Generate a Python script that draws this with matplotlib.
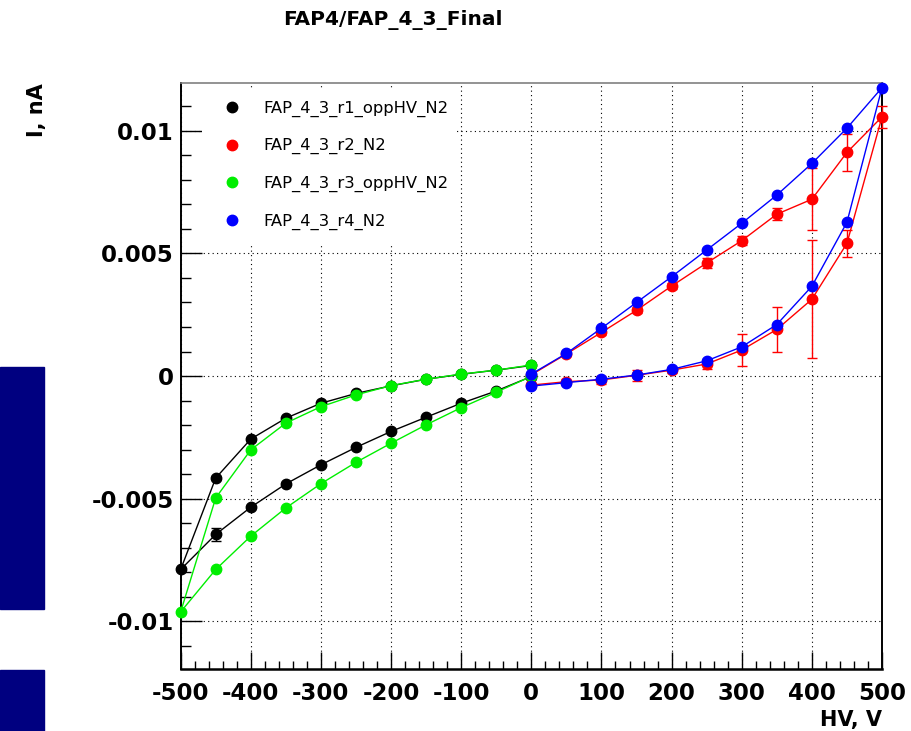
import matplotlib
matplotlib.use("Agg")
import matplotlib.pyplot as plt
from matplotlib.lines import Line2D
from matplotlib.patches import Rectangle
from matplotlib.ticker import FuncFormatter, MultipleLocator

plt.rcParams["font.family"] = ["DejaVu Sans"]
plt.rcParams["axes.unicode_minus"] = False

# --- data (HV in V, current in nA) ---
hv_neg = [0, -50, -100, -150, -200, -250, -300, -350, -400, -450, -500,
          -450, -400, -350, -300, -250, -200, -150, -100, -50, 0]
hv_pos = [0, 50, 100, 150, 200, 250, 300, 350, 400, 450, 500,
          450, 400, 350, 300, 250, 200, 150, 100, 50, 0]

i_r1 = [0.00043, 0.00024, 0.00007, -0.00013, -0.00040, -0.00071, -0.00111,
        -0.00172, -0.00257, -0.00416, -0.00789,
        -0.00646, -0.00535, -0.00440, -0.00362, -0.00291, -0.00226,
        -0.00168, -0.00111, -0.00061, -0.00002]
e_r1 = [0.00004, 0.00004, 0.00004, 0.00004, 0.00004, 0.00004, 0.00005,
        0.00005, 0.00006, 0.00008, 0.00008,
        0.00028, 0.00008, 0.00006, 0.00005, 0.00005, 0.00004,
        0.00004, 0.00004, 0.00004, 0.00004]

i_r2 = [0.00005, 0.00090, 0.00178, 0.00268, 0.00367, 0.00461, 0.00552,
        0.00660, 0.00721, 0.00912, 0.01057,
        0.00541, 0.00313, 0.00190, 0.00106, 0.00049, 0.00024,
        0.00003, -0.00016, -0.00023, -0.00037]
e_r2 = [0.00005, 0.00008, 0.00010, 0.00012, 0.00012, 0.00020, 0.00018,
        0.00025, 0.00126, 0.00076, 0.00045,
        0.00054, 0.00240, 0.00091, 0.00064, 0.00020, 0.00010,
        0.00022, 0.00015, 0.00012, 0.00010]

i_r3 = [0.00045, 0.00024, 0.00008, -0.00013, -0.00039, -0.00077, -0.00125,
        -0.00192, -0.00301, -0.00497, -0.00962,
        -0.00789, -0.00653, -0.00538, -0.00439, -0.00352, -0.00274,
        -0.00199, -0.00129, -0.00066, -0.00001]
e_r3 = [0.00004] * 21

i_r4 = [0.00008, 0.00092, 0.00195, 0.00300, 0.00405, 0.00514, 0.00623,
        0.00738, 0.00867, 0.01011, 0.01176,
        0.00627, 0.00366, 0.00210, 0.00119, 0.00062, 0.00027,
        0.00004, -0.00013, -0.00027, -0.00041]
e_r4 = [0.00004] * 21

labels = ["FAP_4_3_r1_oppHV_N2", "FAP_4_3_r2_N2",
          "FAP_4_3_r3_oppHV_N2", "FAP_4_3_r4_N2"]
colors = ["black", "red", "#00ee00", "blue"]

fig = plt.figure(figsize=(9.12, 7.31), dpi=100)
ax = fig.add_axes([0.1981, 0.0848, 0.769, 0.8016])

# stray palette blocks on the left edge of the original canvas
fig.patches.append(Rectangle((0, 0.1665), 44 / 912, 0.3319,
                             transform=fig.transFigure, color="#000080"))
fig.patches.append(Rectangle((0, 0), 44 / 912, 0.0834,
                             transform=fig.transFigure, color="#000080"))

series = [(hv_neg, i_r1, e_r1), (hv_pos, i_r2, e_r2),
          (hv_neg, i_r3, e_r3), (hv_pos, i_r4, e_r4)]
for (x, y, e), c in zip(series, colors):
    cont = ax.errorbar(x, y, yerr=e, color=c, lw=1.0, marker="o", ms=7.5,
                       mec=c, elinewidth=1.0, capsize=3.5, capthick=1.0,
                       zorder=3)
    for art in cont.get_children():
        art.set_clip_on(False)

ax.set_xlim(-500, 500)
ax.set_ylim(-0.01195, 0.01195)

ax.xaxis.set_major_locator(MultipleLocator(100))
ax.xaxis.set_minor_locator(MultipleLocator(20))
ax.yaxis.set_major_locator(MultipleLocator(0.005))
ax.yaxis.set_minor_locator(MultipleLocator(0.001))
ax.yaxis.set_major_formatter(FuncFormatter(lambda v, _: f"{round(v, 6) + 0.0:g}"))
ax.xaxis.set_major_formatter(FuncFormatter(lambda v, _: f"{int(round(v))}"))

ax.tick_params(which="both", direction="in", top=False, right=False,
               labelsize=16.5, width=1.0)
ax.tick_params(axis="x", which="major", length=12.2, pad=9)
ax.tick_params(axis="x", which="minor", length=5.8)
ax.tick_params(axis="y", which="major", length=15, pad=5)
ax.tick_params(axis="y", which="minor", length=7.2)
for lab in ax.get_xticklabels() + ax.get_yticklabels():
    lab.set_fontweight("bold")

ax.grid(True, which="major", color="black", ls=(0, (1, 3)), lw=0.8)

for side in ["left", "bottom", "right"]:
    ax.spines[side].set_color("black")
ax.spines["left"].set_linewidth(1.4)
ax.spines["bottom"].set_linewidth(1.8)
ax.spines["right"].set_linewidth(1.4)
ax.spines["top"].set_color("#808080")
ax.spines["top"].set_linewidth(1.2)

# legend box (white, borderless) hiding the grid behind the entries
ax.add_patch(Rectangle((0.0304, 0.7235), 0.3622, 0.268,
                       transform=ax.transAxes, facecolor="white",
                       edgecolor="none", zorder=1.8))
handles = [Line2D([], [], color=c, marker="o", ls="none", ms=7.5)
           for c in colors]
ax.legend(handles, labels, loc="upper left", bbox_to_anchor=(0.0617, 0.970),
          frameon=False, fontsize=11.8, handlelength=1.0, handletextpad=1.4,
          labelspacing=1.31, borderpad=0, borderaxespad=0)

ax.set_xlabel("HV, V", loc="right", fontsize=15, fontweight="bold")
ax.xaxis.set_label_coords(1.0, -0.07)
ax.set_ylabel("I, nA", loc="top", fontsize=15, fontweight="bold")
ax.yaxis.set_label_coords(-0.19, 1.0)

fig.text(0.431, 0.972, "FAP4/FAP_4_3_Final", ha="center", va="center",
         fontsize=14.5, fontweight="bold")

fig.savefig("out.png", dpi=100)
